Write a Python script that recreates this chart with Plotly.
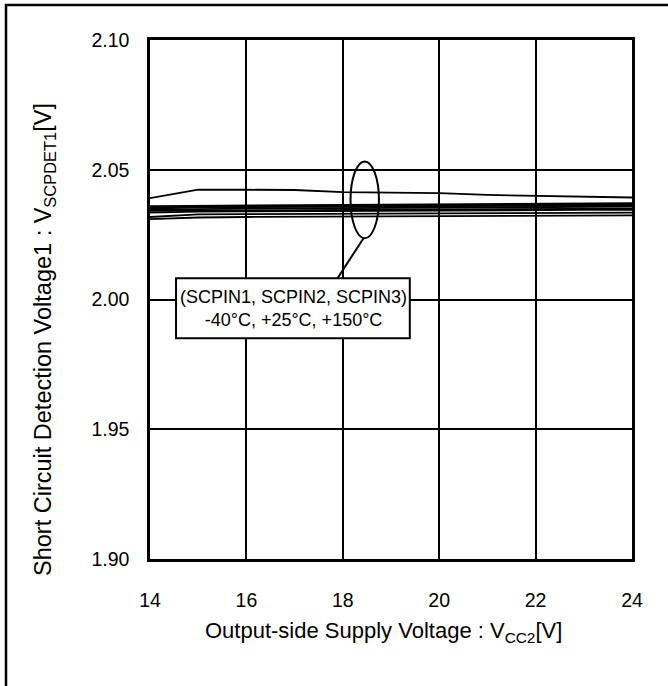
import plotly.graph_objects as go

# ---- data ----
vcc2 = [14, 15, 16, 17, 18, 19, 20, 21, 22, 23, 24]
s1 = [2.0391, 2.0423, 2.0423, 2.0422, 2.0414, 2.0412, 2.0410, 2.0403, 2.0400, 2.0398, 2.0393]
s2 = [2.0360, 2.0362, 2.0363, 2.0364, 2.0365, 2.0366, 2.0367, 2.0368, 2.0369, 2.0370, 2.0371]
s3 = [2.0355, 2.0358, 2.0359, 2.0360, 2.0361, 2.0362, 2.0363, 2.0364, 2.0365, 2.0366, 2.0367]
s4 = [2.0350, 2.0355, 2.0356, 2.0357, 2.0358, 2.0359, 2.0360, 2.0361, 2.0362, 2.0362, 2.0363]
s5 = [2.0346, 2.0349, 2.0350, 2.0351, 2.0352, 2.0353, 2.0354, 2.0355, 2.0356, 2.0357, 2.0358]
s6 = [2.0342, 2.0343, 2.0344, 2.0345, 2.0345, 2.0346, 2.0347, 2.0348, 2.0349, 2.0349, 2.0350]
s7 = [2.0335, 2.0339, 2.0340, 2.0341, 2.0341, 2.0342, 2.0343, 2.0343, 2.0344, 2.0345, 2.0345]
s8 = [2.0318, 2.0328, 2.0329, 2.0330, 2.0330, 2.0331, 2.0332, 2.0333, 2.0333, 2.0334, 2.0335]
s9 = [2.0310, 2.0316, 2.0318, 2.0319, 2.0320, 2.0320, 2.0321, 2.0322, 2.0323, 2.0323, 2.0324]
series = [s1, s2, s3, s4, s5, s6, s7, s8, s9]

x_ticks = [14, 16, 18, 20, 22, 24]
y_ticks = [1.90, 1.95, 2.00, 2.05, 2.10]
y_tick_text = ["1.90", "1.95", "2.00", "2.05", "2.10"]

note_line1 = "(SCPIN1, SCPIN2, SCPIN3)"
note_line2 = "-40°C, +25°C, +150°C"
x_title = "Output-side Supply Voltage : V<sub>CC2</sub>[V]"
y_title = "Short Circuit Detection Voltage1 : V<sub>SCPDET1</sub>[V]"

FONT = "Arial, Liberation Sans, sans-serif"
W, H = 668, 686
L, R, T, B = 150, 36, 40, 127
pw, ph = W - L - R, H - T - B


def px(p):
    return (p - L) / pw


def py(q):
    return (H - B - q) / ph


fig = go.Figure()
for s in series:
    fig.add_trace(go.Scatter(x=vcc2, y=s, mode="lines",
                             line=dict(color="black", width=1.8),
                             showlegend=False, hoverinfo="skip"))

fig.update_layout(
    width=W, height=H,
    margin=dict(l=L, r=R, t=T, b=B, pad=0),
    paper_bgcolor="white", plot_bgcolor="white",
    font=dict(family=FONT, size=19.5, color="black"),
    showlegend=False,
)
fig.update_xaxes(range=[14, 24], tickvals=x_ticks, showgrid=True,
                 gridcolor="black", gridwidth=2, showline=True,
                 linecolor="black", linewidth=2.5, mirror=True,
                 zeroline=False, ticks="", ticklabelstandoff=22,
                 tickfont=dict(size=19.5))
fig.update_yaxes(range=[1.90, 2.10], tickvals=y_ticks, ticktext=y_tick_text,
                 showgrid=True, gridcolor="black", gridwidth=2,
                 showline=True, linecolor="black", linewidth=2.5,
                 mirror=True, zeroline=False, ticks="",
                 ticklabelstandoff=14, tickfont=dict(size=19.5))

# outer frame
fig.add_shape(type="rect", xref="paper", yref="paper",
              x0=px(6), x1=px(W + 10), y0=py(H + 10), y1=py(5),
              line=dict(color="black", width=2.5), fillcolor="rgba(0,0,0,0)")

# ellipse marking the curves
fig.add_shape(type="circle", xref="x", yref="y",
              x0=18.16, x1=18.75, y0=2.0236, y1=2.0532,
              line=dict(color="black", width=2))
# leader line
fig.add_shape(type="line", xref="x", yref="y",
              x0=18.43, y0=2.0236, x1=17.89, y1=2.0082,
              line=dict(color="black", width=2))
# note box
fig.add_shape(type="rect", xref="x", yref="y",
              x0=14.54, x1=19.39, y0=1.9851, y1=2.0082,
              line=dict(color="black", width=2), fillcolor="white",
              layer="above")
fig.add_annotation(x=16.97, y=1.99665, xref="x", yref="y",
                   xanchor="center", yanchor="middle",
                   text=note_line1 + "<br>" + note_line2,
                   showarrow=False, align="center",
                   font=dict(size=18, family=FONT))

# axis titles
fig.add_annotation(x=px(383), y=py(632), xref="paper", yref="paper",
                   xanchor="center", yanchor="middle",
                   text=x_title, showarrow=False,
                   font=dict(size=22, family=FONT))
fig.add_annotation(x=px(45), y=py(340), xref="paper", yref="paper",
                   xanchor="center", yanchor="middle",
                   text=y_title, showarrow=False, textangle=-90,
                   font=dict(size=23.5, family=FONT))

fig.write_html("out.html")
